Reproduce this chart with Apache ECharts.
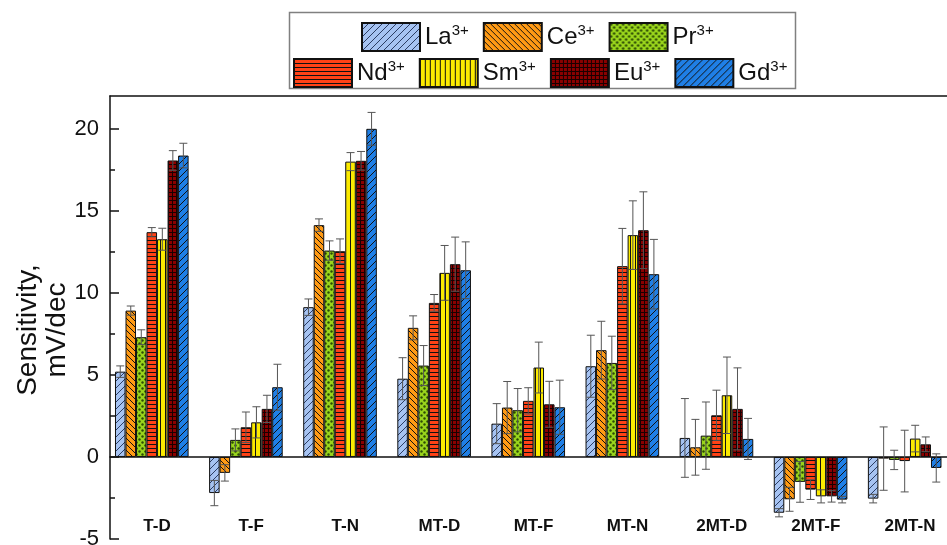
<!DOCTYPE html>
<html>
<head>
<meta charset="utf-8">
<script src="https://cdn.jsdelivr.net/npm/echarts@6/dist/echarts.min.js"></script>
<style>
  html, body { margin: 0; padding: 0; background: #fff; }
  #chart { width: 947px; height: 545px; }
</style>
</head>
<body>
<div id="chart"></div>
<script>
// ---------- data ----------
const categories = ['T-D', 'T-F', 'T-N', 'MT-D', 'MT-F', 'MT-N', '2MT-D', '2MT-F', '2MT-N'];
const ions = ['La', 'Ce', 'Pr', 'Nd', 'Sm', 'Eu', 'Gd'];

const La    = [5.20, -2.20,  9.13,  4.77, 2.03,  5.53, 1.16, -3.40, -2.54];
const LaErr = [0.35,  0.77,  0.50,  1.28, 1.22,  1.89, 2.40,  0.25,  0.26];
const Ce    = [8.92, -0.97, 14.13,  7.87, 3.01,  6.51, 0.59, -2.58, -0.10];
const CeErr = [0.28,  0.50,  0.38,  0.73, 1.59,  1.76, 1.70,  0.73,  1.93];
const Pr    = [7.30,  1.04, 12.58,  5.57, 2.85,  5.73, 1.30, -1.52, -0.18];
const PrErr = [0.45,  0.67,  0.59,  1.22, 1.32,  1.63, 2.05,  1.24,  0.59];
const Nd    = [13.70, 1.81, 12.54,  9.39, 3.42, 11.63, 2.54, -1.99, -0.25];
const NdErr = [0.28,  0.93,  0.75,  0.51, 0.80,  2.30, 1.53,  0.60,  1.88];
const Sm    = [13.27, 2.11, 18.00, 11.22, 5.45, 13.52, 3.76, -2.40,  1.12];
const SmErr = [0.67,  0.95,  0.55,  1.67, 1.55,  2.09, 2.33,  0.40,  0.81];
const Eu    = [18.07, 2.93, 18.05, 11.75, 3.21, 13.82, 2.93, -2.40,  0.77];
const EuErr = [0.60,  0.83,  0.57,  1.65, 1.40,  2.34, 2.50,  0.35,  0.45];
const Gd    = [18.37, 4.25, 20.00, 11.38, 3.03, 11.14, 1.10, -2.60, -0.67];
const GdErr = [0.75,  1.40,  1.00,  1.73, 1.65,  2.12, 1.25,  0.20,  0.86];

const yMajorTicks = [-5, 0, 5, 10, 15, 20];
const yMinorTicks = [-2.5, 2.5, 7.5, 12.5, 17.5];

const values = [La, Ce, Pr, Nd, Sm, Eu, Gd];
const errors = [LaErr, CeErr, PrErr, NdErr, SmErr, EuErr, GdErr];

// ---------- patterns ----------
function tile(size, bg, draw) {
  const c = document.createElement('canvas');
  c.width = size; c.height = size;
  const g = c.getContext('2d');
  g.fillStyle = bg; g.fillRect(0, 0, size, size);
  g.strokeStyle = '#111'; g.fillStyle = '#111'; g.lineWidth = 1;
  draw(g, size);
  return { image: c, repeat: 'repeat' };
}
function fwd(g, s) { // "/"
  g.beginPath();
  g.moveTo(-1, s + 1); g.lineTo(s + 1, -1);
  g.moveTo(-1, 1); g.lineTo(1, -1);
  g.moveTo(s - 1, s + 1); g.lineTo(s + 1, s - 1);
  g.stroke();
}
function back(g, s) { // "\"
  g.beginPath();
  g.moveTo(-1, -1); g.lineTo(s + 1, s + 1);
  g.moveTo(s - 1, -1); g.lineTo(s + 1, 1);
  g.moveTo(-1, s - 1); g.lineTo(1, s + 1);
  g.stroke();
}
const patterns = [
  tile(7, '#a6c3f2', (g, s) => { g.strokeStyle = '#2b3d63'; fwd(g, s); }),
  tile(6, '#ff9a14', back),
  tile(6, '#99d41c', (g, s) => {
    g.fillStyle = '#2c4a05';
    g.beginPath(); g.arc(1.5, 1.5, 1.2, 0, Math.PI * 2); g.fill();
    g.beginPath(); g.arc(4.5, 4.5, 1.2, 0, Math.PI * 2); g.fill();
  }),
  tile(4, '#ff4216', (g, s) => { g.fillRect(0, 0, s, 1); }),
  tile(5, '#fbea00', (g, s) => { g.fillRect(0, 0, 1, s); }),
  tile(4, '#8a0000', (g, s) => { g.fillStyle = '#1a0000'; g.fillRect(0, 0, s, 1); g.fillRect(0, 0, 1, s); }),
  tile(7, '#1f7fe6', fwd)
];

// ---------- layout constants ----------
const FONT = "'Liberation Sans', Arial, sans-serif";
const CAT_GAP = 0.106;
const NSLOT = 8; // 7 visible bars + one empty slot (as in the original clustered layout)
const GRID = { left: 110, right: -10, top: 96, bottom: 6 };
const Y_MIN = -5, Y_MAX = 22;
const plotH = 545 - GRID.top - GRID.bottom;
const zeroOffset = plotH * (0 - Y_MIN) / (Y_MAX - Y_MIN); // distance from grid bottom to zero line

const chart = echarts.init(document.getElementById('chart'), null, { renderer: 'canvas' });

const barSeries = ions.map((name, i) => ({
  type: 'bar',
  name: name,
  xAxisIndex: 0,
  yAxisIndex: 0,
  data: values[i],
  barGap: '0%',
  barCategoryGap: (CAT_GAP * 100) + '%',
  itemStyle: { color: patterns[i], borderColor: '#111', borderWidth: 1 },
  emphasis: { disabled: true },
  z: 2
}));
barSeries.push({ type: 'bar', name: 'slot', xAxisIndex: 0, yAxisIndex: 0, data: [], barGap: '0%' });

const errSeries = ions.map((name, i) => ({
  type: 'custom',
  name: name + ' err',
  xAxisIndex: 0,
  yAxisIndex: 0,
  z: 5,
  silent: true,
  encode: { x: 0, y: 1 },
  data: values[i].map((v, k) => [k, v, errors[i][k]]),
  renderItem: (params, api) => {
    const ci = api.value(0), v = api.value(1), e = api.value(2);
    const c = api.coord([ci, v]);
    const band = api.size([1, 0])[0];
    const used = band * (1 - CAT_GAP);
    const bw = used / NSLOT;
    const x = c[0] - used / 2 + (i + 0.5) * bw;
    const yT = api.coord([ci, v + e])[1];
    const yB = api.coord([ci, v - e])[1];
    const cw = 4;
    const st = { stroke: '#555', lineWidth: 1 };
    return {
      type: 'group',
      children: [
        { type: 'line', shape: { x1: x, y1: yT, x2: x, y2: yB }, style: st },
        { type: 'line', shape: { x1: x - cw, y1: yT, x2: x + cw, y2: yT }, style: st },
        { type: 'line', shape: { x1: x - cw, y1: yB, x2: x + cw, y2: yB }, style: st }
      ]
    };
  }
}));

const legendText = {
  fontFamily: FONT,
  color: '#111',
  rich: {
    n: { fontSize: 24, fontFamily: FONT, color: '#111', lineHeight: 28 },
    s: { fontSize: 15, fontFamily: FONT, color: '#111', lineHeight: 14, verticalAlign: 'top' }
  }
};

const axisBlack = { color: '#111', width: 1.5 };

const option = {
  animation: false,
  backgroundColor: '#fff',
  grid: Object.assign({ containLabel: false, outerBoundsMode: 'none' }, GRID),
  legend: [
    {
      data: ['La', 'Ce', 'Pr'], left: 361, top: 22, orient: 'horizontal', padding: 0,
      icon: 'rect', itemWidth: 58, itemHeight: 28, itemGap: 14,
      formatter: n => '{n|' + n + '}{s|3+}', textStyle: legendText, selectedMode: false
    },
    {
      data: ['Nd', 'Sm', 'Eu', 'Gd'], left: 293, top: 58, orient: 'horizontal', padding: 0,
      icon: 'rect', itemWidth: 58, itemHeight: 28, itemGap: 14,
      formatter: n => '{n|' + n + '}{s|3+}', textStyle: legendText, selectedMode: false
    }
  ],
  graphic: [
    {
      type: 'rect', z: -1, silent: true,
      shape: { x: 289.5, y: 12.5, width: 506, height: 76 },
      style: { fill: '#fff', stroke: '#808080', lineWidth: 1.5 }
    },
    {
      type: 'text', x: 43, y: 330, rotation: Math.PI / 2, silent: true,
      style: {
        text: 'Sensitivity,\nmV/dec', align: 'center', verticalAlign: 'middle',
        font: '28px ' + FONT, fill: '#111', lineHeight: 29
      }
    }
  ],
  xAxis: [
    { // category labels, placed below the zero line
      type: 'category', data: categories, position: 'bottom', offset: -zeroOffset,
      axisLine: { show: false, onZero: false },
      axisTick: { show: false },
      axisLabel: { margin: 61, fontFamily: FONT, fontSize: 17, fontWeight: 'bold', color: '#111' },
      splitLine: { show: false }
    },
    {
      type: 'category', data: categories, position: 'bottom', offset: -zeroOffset,
      axisLine: { show: true, onZero: false, lineStyle: axisBlack },
      axisTick: { alignWithLabel: true, inside: false, length: 10, lineStyle: axisBlack },
      axisLabel: { show: false }, splitLine: { show: false }
    },
    {
      type: 'category', data: categories, position: 'bottom', offset: -zeroOffset,
      axisLine: { show: false, onZero: false },
      axisTick: { alignWithLabel: false, inside: false, length: 5, lineStyle: axisBlack },
      axisLabel: { show: false }, splitLine: { show: false }
    },
    {
      type: 'category', data: categories, position: 'top',
      axisLine: { onZero: false, lineStyle: axisBlack },
      axisTick: { alignWithLabel: true, inside: true, length: 6, lineStyle: axisBlack },
      axisLabel: { show: false }, splitLine: { show: false }
    },
    {
      type: 'category', data: categories, position: 'top',
      axisLine: { show: false, onZero: false },
      axisTick: { alignWithLabel: false, inside: true, length: 4, lineStyle: axisBlack },
      axisLabel: { show: false }, splitLine: { show: false }
    }
  ],
  yAxis: [
    {
      type: 'value', min: Y_MIN, max: Y_MAX, position: 'left',
      axisLine: { show: true, onZero: false, lineStyle: axisBlack },
      axisTick: { show: true, inside: true, length: 9, customValues: yMajorTicks, lineStyle: axisBlack },
      axisLabel: { customValues: yMajorTicks, margin: 11, fontFamily: FONT, fontSize: 22, color: '#111' },
      splitLine: { show: false }
    },
    {
      type: 'value', min: Y_MIN, max: Y_MAX, position: 'left',
      axisLine: { show: false, onZero: false },
      axisTick: { show: true, inside: true, length: 5, customValues: yMinorTicks, lineStyle: axisBlack },
      axisLabel: { show: false },
      splitLine: { show: false }
    }
  ],
  series: barSeries.concat(errSeries)
};

chart.setOption(option);
</script>
</body>
</html>
